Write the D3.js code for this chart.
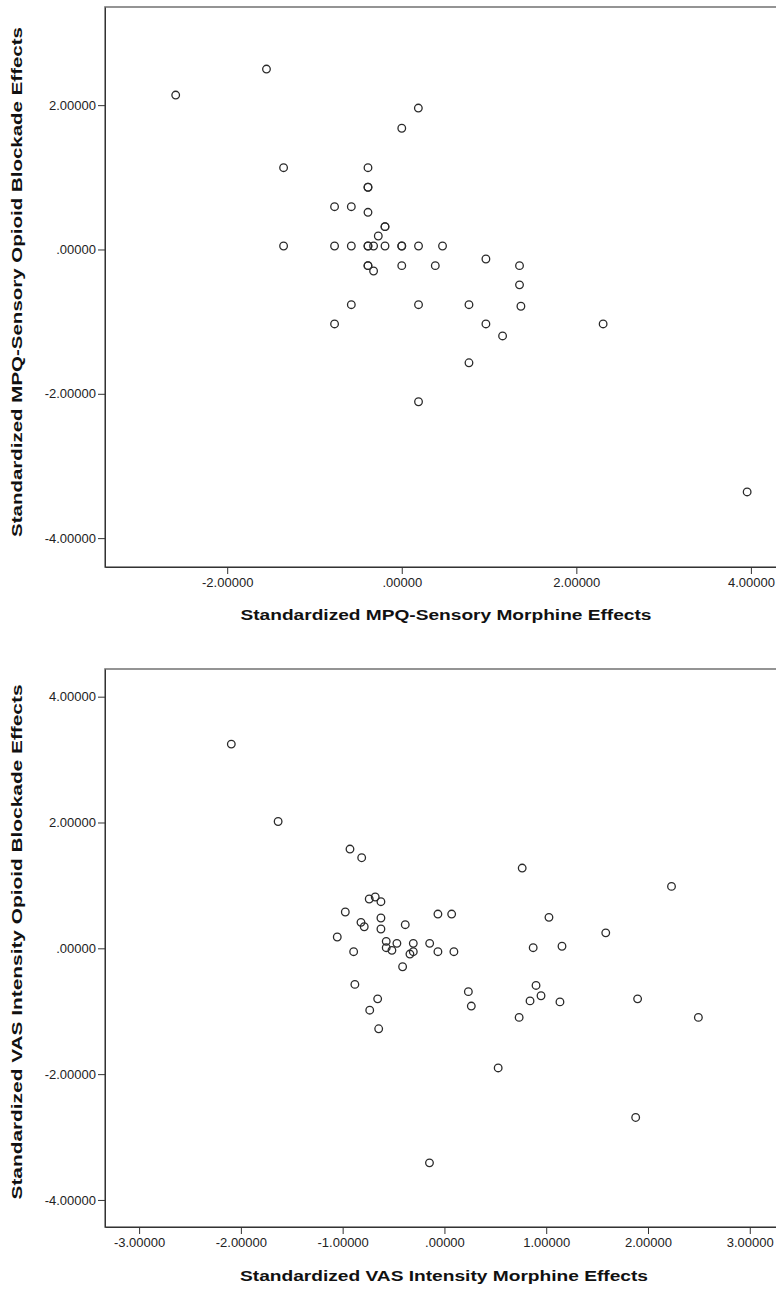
<!DOCTYPE html>
<meta charset="utf-8">
<head> <title> Standardized effects scatter </title>
<style>
body { margin: 0; background: #fff; }
.tick text { font-family: "Liberation Sans", Arial, sans-serif; font-size: 13px; fill: #222; }
.tick line { stroke: #333; }
.domain { stroke: #333; }
.title { font-family: "Liberation Sans", Arial, sans-serif; font-size: 14px; font-weight: bold; fill: #111; }
.dots circle { fill: none; stroke: #2a2a2a; stroke-width: 1.3px; }
</style>
<svg width="776" height="1290"></svg>
<script src="https://cdn.jsdelivr.net/npm/d3@7"></script>
<script>

// top panel : MPQ-Sensory
var mpqMorphine = [-2.59, -1.55, 0.19, 0.0, -1.354, -0.387, -0.387, -0.387, -0.770, -0.578,
  -0.387, -0.192, -0.192, -0.269, -1.354, -0.770, -0.578, -0.387, -0.387, -0.323,
  -0.192, 0.0, 0.0, 0.192, 0.467, 0.964, 1.349, -0.387, -0.387, -0.323,
  0.0, 0.384, 1.349, -0.578, 0.192, 0.770, 1.365, -0.770, 0.964, 1.155,
  2.307, 0.770, 0.192, 3.957];
var mpqBlockade = [2.14, 2.50, 1.96, 1.68, 1.133, 1.133, 0.862, 0.862, 0.593, 0.593,
  0.515, 0.316, 0.316, 0.187, 0.048, 0.048, 0.048, 0.048, 0.048, 0.048,
  0.048, 0.048, 0.048, 0.048, 0.048, -0.132, -0.224, -0.224, -0.224, -0.298,
  -0.224, -0.224, -0.49, -0.765, -0.765, -0.765, -0.787, -1.032, -1.032, -1.198,
  -1.032, -1.57, -2.11, -3.36];
var mpqXTicks = [-2, 0, 2, 4];
var mpqYTicks = [-4, -2, 0, 2];

// bottom panel : VAS Intensity
var vasMorphine = [-2.094, -1.634, -0.928, -0.813, 0.764, 2.231, -0.739, -0.680, -0.624, -0.974,
  -0.064, 0.071, 1.027, -0.624, -0.820, -0.788, -0.624, -0.385, 1.585, -1.053,
  -0.572, -0.467, -0.306, -0.145, -0.572, -0.516, -0.306, -0.339, -0.064, 0.093,
  -0.892, 0.872, 1.155, -0.411, -0.880, 0.235, 0.264, 0.900, 0.841, 0.949,
  1.135, 1.898, 2.495, -0.734, -0.656, -0.646, 0.734, 0.528, 1.879, -0.147];
var vasBlockade = [3.246, 2.016, 1.578, 1.440, 1.276, 0.984, 0.784, 0.816, 0.741, 0.577,
  0.545, 0.545, 0.492, 0.482, 0.413, 0.343, 0.307, 0.375, 0.246, 0.180,
  0.111, 0.079, 0.079, 0.079, 0.010, -0.032, -0.054, -0.091, -0.054, -0.054,
  -0.054, 0.010, 0.033, -0.293, -0.574, -0.689, -0.918, -0.590, -0.836, -0.754,
  -0.852, -0.803, -1.098, -0.984, -0.803, -1.279, -1.098, -1.902, -2.689, -3.410];
var vasXTicks = [-3, -2, -1, 0, 1, 2, 3];
var vasYTicks = [-4, -2, 0, 2, 4];

var svg = d3.select("svg");

// SPSS style numbers: .00000 for zero, plain hyphen for minus
var fmt = function(d) {
  var s = d3.format(".5f")(d).replace("\u2212", "-");
  return d === 0 ? s.replace(/^0/, "") : s;
};

function panel(cfg) {
  var x = d3.scaleLinear().domain(cfg.xDomain).range([cfg.left, cfg.right]);
  var y = d3.scaleLinear().domain(cfg.yDomain).range([cfg.bottom, cfg.top]);
  var g = svg.append("g");

  // frame
  g.append("rect")
    .attr("x", cfg.left).attr("y", cfg.top)
    .attr("width", cfg.right - cfg.left).attr("height", cfg.bottom - cfg.top)
    .attr("fill", "none").attr("stroke", "#7a7a7a").attr("stroke-width", 1.6);

  g.append("g")
    .attr("transform", "translate(0," + cfg.bottom + ")")
    .call(d3.axisBottom(x).tickValues(cfg.xTicks).tickFormat(fmt).tickSizeInner(7).tickSizeOuter(0).tickPadding(4));

  g.append("g")
    .attr("transform", "translate(" + cfg.left + ",0)")
    .call(d3.axisLeft(y).tickValues(cfg.yTicks).tickFormat(fmt).tickSizeInner(7).tickSizeOuter(0).tickPadding(2));

  g.selectAll(".tick text").attr("fill", "#222");

  g.append("g").attr("class", "dots")
    .selectAll("circle")
    .data(d3.range(cfg.xs.length))
    .enter().append("circle")
      .attr("cx", function(i) { return x(cfg.xs[i]); })
      .attr("cy", function(i) { return y(cfg.ys[i]); })
      .attr("r", 3.8);

  g.append("text").attr("class", "title")
    .attr("x", cfg.xTitleX).attr("y", cfg.xTitleY)
    .attr("text-anchor", "middle")
    .attr("textLength", cfg.xTitleLen).attr("lengthAdjust", "spacingAndGlyphs")
    .text(cfg.xTitle);

  g.append("text").attr("class", "title")
    .attr("transform", "translate(22," + cfg.yTitleY + ") rotate(-90)")
    .attr("text-anchor", "middle")
    .attr("textLength", cfg.yTitleLen).attr("lengthAdjust", "spacingAndGlyphs")
    .text(cfg.yTitle);
}

panel({
  left: 105, right: 812, top: 7, bottom: 567,
  xDomain: [-3.40, 4.70], yDomain: [-4.40, 3.36],
  xTicks: mpqXTicks, yTicks: mpqYTicks,
  xs: mpqMorphine, ys: mpqBlockade,
  xTitle: "Standardized MPQ-Sensory Morphine Effects", xTitleX: 446, xTitleY: 620, xTitleLen: 411,
  yTitle: "Standardized MPQ-Sensory Opioid Blockade Effects", yTitleY: 282, yTitleLen: 510
});

panel({
  left: 105, right: 820, top: 669, bottom: 1227,
  xDomain: [-3.335, 3.69], yDomain: [-4.43, 4.44],
  xTicks: vasXTicks, yTicks: vasYTicks,
  xs: vasMorphine, ys: vasBlockade,
  xTitle: "Standardized VAS Intensity Morphine Effects", xTitleX: 444, xTitleY: 1281, xTitleLen: 408,
  yTitle: "Standardized VAS Intensity Opioid Blockade Effects", yTitleY: 942, yTitleLen: 515
});

</script>
</head>
